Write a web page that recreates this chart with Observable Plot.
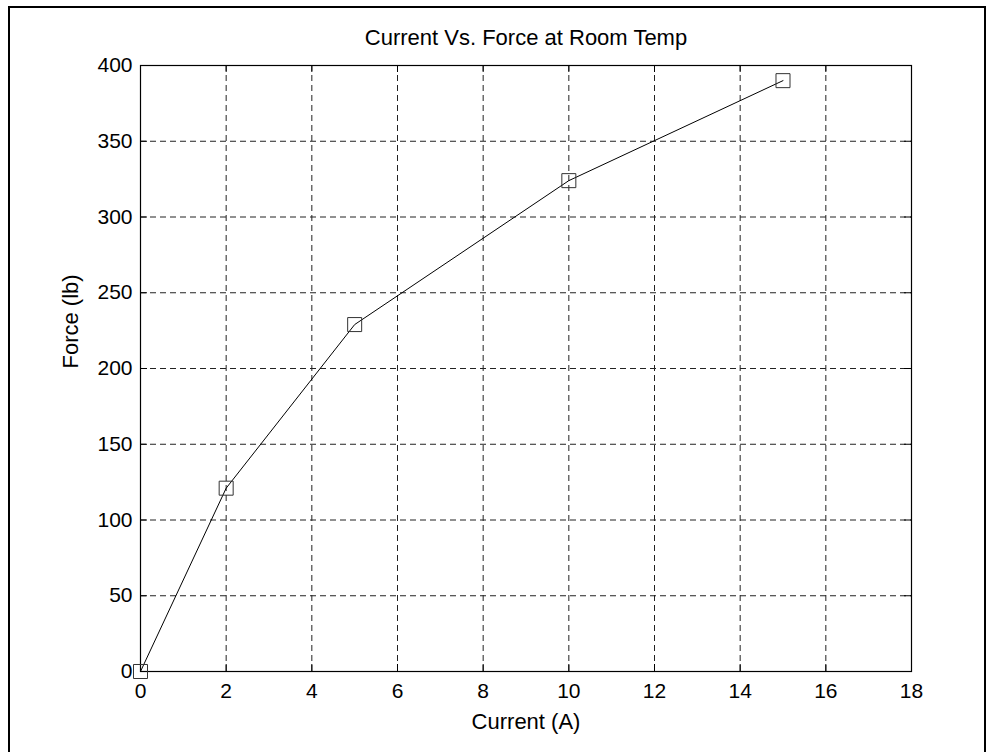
<!DOCTYPE html>
<html>
<head>
<meta charset="utf-8">
<script src="https://cdn.jsdelivr.net/npm/d3@7"></script>
<script src="https://cdn.jsdelivr.net/npm/@observablehq/plot@0.6"></script>
<style>
  html, body { margin: 0; padding: 0; background: #fff; }
  #wrap { position: relative; width: 994px; height: 752px; overflow: hidden; }
  #border { position: absolute; left: 8px; top: 6px; width: 978px; height: 760px; border: 2px solid #000; box-sizing: border-box; }
  #chart { position: absolute; left: 0; top: 0; }
</style>
</head>
<body>
<div id="wrap"><div id="chart"></div><div id="border"></div></div>
<script>
const current = [0, 2, 5, 10, 15];
const force = [0, 121, 229, 324, 390];
const xTicks = [0, 2, 4, 6, 8, 10, 12, 14, 16, 18];
const yTicks = [0, 50, 100, 150, 200, 250, 300, 350, 400];
const title = "Current Vs. Force at Room Temp";
const xLabel = "Current (A)";
const yLabel = "Force (lb)";

const data = current.map((c, i) => ({current: c, force: force[i]}));

const W = 994, H = 752;
const mL = 140, mR = 83, mT = 65, mB = 81;
const plotH = H - mT - mB, plotW = W - mL - mR;

const chart = Plot.plot({
  width: W,
  height: H,
  marginLeft: mL,
  marginRight: mR,
  marginTop: mT,
  marginBottom: mB,
  style: {fontFamily: "'Liberation Sans', Arial, sans-serif", background: "transparent", color: "#000"},
  x: {domain: [0, 18], ticks: xTicks, label: null},
  y: {domain: [0, 400], ticks: yTicks, label: null},
  marks: [
    Plot.ruleX(xTicks.filter(d => d > 0 && d < 18), {x: d => d, stroke: "#222", strokeWidth: 1, strokeDasharray: "6,4"}),
    Plot.ruleY(yTicks.filter(d => d > 0 && d < 400), {y: d => d, stroke: "#222", strokeWidth: 1, strokeDasharray: "6,4"}),
    // inward ticks
    Plot.tickX(xTicks, {x: d => d, stroke: "#000", insetTop: plotH - 7}),
    Plot.tickX(xTicks, {x: d => d, stroke: "#000", insetBottom: plotH - 7}),
    Plot.tickY(yTicks, {y: d => d, stroke: "#000", insetRight: plotW - 7}),
    Plot.tickY(yTicks, {y: d => d, stroke: "#000", insetLeft: plotW - 7}),
    Plot.frame({stroke: "#000", strokeWidth: 1.2}),
    Plot.axisX({ticks: xTicks, tickSize: 0, tickPadding: 12, fontSize: 21, label: null}),
    Plot.axisY({ticks: yTicks, tickSize: 0, tickPadding: 8, fontSize: 21, label: null}),
    Plot.line(data, {x: "current", y: "force", stroke: "#000", strokeWidth: 1}),
    Plot.dot(data, {x: "current", y: "force", symbol: "square", r: 7.9, stroke: "#333", strokeWidth: 1, fill: "none"}),
    Plot.text([title], {frameAnchor: "top", dy: -28, lineAnchor: "middle", fontSize: 22, fill: "#000"}),
    Plot.text([xLabel], {frameAnchor: "bottom", dy: 50, lineAnchor: "middle", fontSize: 22, fill: "#000"}),
    Plot.text([yLabel], {frameAnchor: "left", dx: -70, rotate: -90, lineAnchor: "middle", fontSize: 22, fill: "#000"})
  ]
});
document.getElementById("chart").appendChild(chart);
</script>
</body>
</html>
